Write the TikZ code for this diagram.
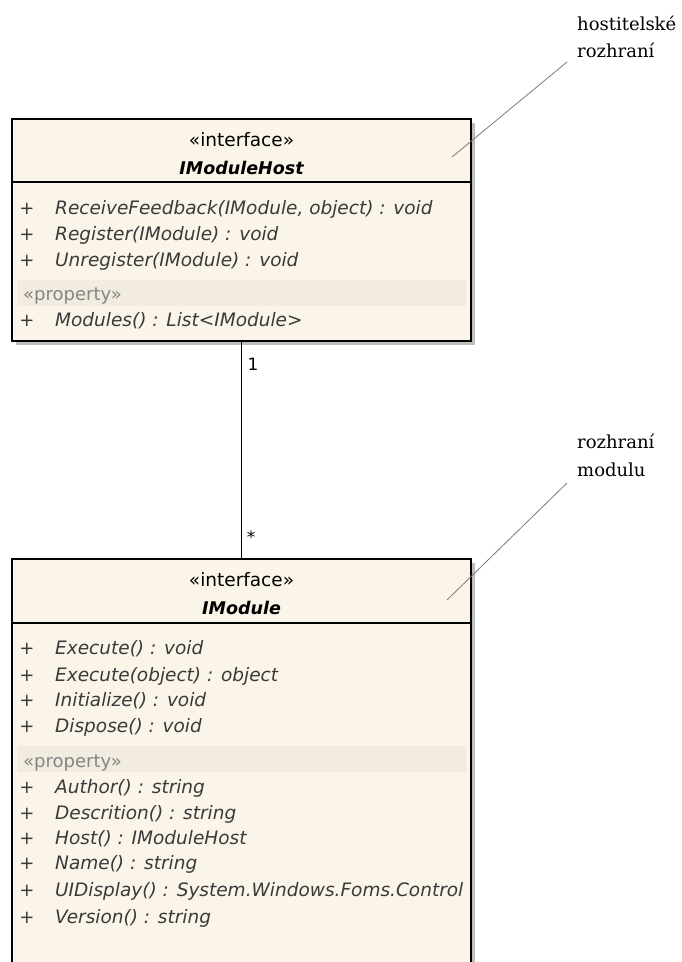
\documentclass[tikz,border=0pt]{standalone}
\usepackage{fontspec}
\usetikzlibrary{shadows}
\newfontfamily\umlfont{DejaVu Sans}
\newfontfamily\notefont{DejaVu Serif}
\definecolor{boxfill}{HTML}{FBF4E9}
\definecolor{bandfill}{HTML}{F2EBE0}
\definecolor{memtext}{HTML}{3A3A3A}
\definecolor{proptext}{HTML}{858585}
\definecolor{shadowgray}{HTML}{BDBDBD}
\definecolor{notegray}{HTML}{7A7A7A}
\tikzset{
  classbox/.style={draw=black, line width=1.5pt, fill=boxfill, inner sep=0pt,
    drop shadow={shadow xshift=4pt, shadow yshift=-4pt, fill=shadowgray, opacity=1}},
  stereo/.style={anchor=base, inner sep=0pt, font=\umlfont\fontsize{18.5}{20}\selectfont},
  ctitle/.style={anchor=base, inner sep=0pt, font=\umlfont\bfseries\itshape\fontsize{17.5}{20}\selectfont},
  member/.style={anchor=base west, inner sep=0pt, text=memtext, font=\umlfont\itshape\fontsize{18.5}{20}\selectfont},
  plus/.style={anchor=base, inner sep=0pt, text=memtext, font=\umlfont\fontsize{18}{20}\selectfont},
  proplabel/.style={anchor=base west, inner sep=0pt, text=proptext, font=\umlfont\fontsize{18}{20}\selectfont},
  band/.style={fill=bandfill, draw=none},
  divider/.style={line width=1.5pt},
  notetext/.style={anchor=base west, inner sep=0pt, font=\notefont\fontsize{18}{20}\selectfont},
  noteline/.style={draw=notegray, line width=0.8pt},
  mult/.style={inner sep=0pt, font=\umlfont\fontsize{17}{18}\selectfont},
}
\begin{document}
\begin{tikzpicture}[x=1pt,y=-1pt]
\useasboundingbox (0,0) rectangle (682,962);
\clip (0,0) rectangle (682,962);

% ---------- IModuleHost ----------
\node[classbox, minimum width=459pt, minimum height=222pt] (host) at (241.5,230) {};
\draw[divider] (12,182) -- (471,182);
\fill[band] (17,280) rectangle (466,306);
\node[stereo] (h1) at (241.5,146) {«interface»};
\node[ctitle] (h2) at (241.5,174) {IModuleHost};
\node[plus] (hp1) at (27,214) {+};
\node[member] (hm1) at (55,214) {ReceiveFeedback(IModule, object) : void};
\node[plus] (hp2) at (27,240) {+};
\node[member] (hm2) at (55,240) {Register(IModule) : void};
\node[plus] (hp3) at (27,266) {+};
\node[member] (hm3) at (55,266) {Unregister(IModule) : void};
\node[proplabel] (hpr) at (23,300) {«property»};
\node[plus] (hp4) at (27,326) {+};
\node[member] (hm4) at (55,326) {Modules() : List<IModule>};

% ---------- IModule ----------
\node[classbox, minimum width=459pt, minimum height=420pt] (mod) at (241.5,769) {};
\draw[divider] (12,623) -- (471,623);
\fill[band] (17,746) rectangle (466,772);
\node[stereo] (m1) at (241.5,586) {«interface»};
\node[ctitle] (m2) at (241.5,614) {IModule};
\node[plus] (mp1) at (27,654) {+};
\node[member] (mm1) at (55,654) {Execute() : void};
\node[plus] (mp2) at (27,681) {+};
\node[member] (mm2) at (55,681) {Execute(object) : object};
\node[plus] (mp3) at (27,706) {+};
\node[member] (mm3) at (55,706) {Initialize() : void};
\node[plus] (mp4) at (27,732) {+};
\node[member] (mm4) at (55,732) {Dispose() : void};
\node[proplabel] (mpr) at (23,767) {«property»};
\node[plus] (mp5) at (27,793) {+};
\node[member] (mm5) at (55,793) {Author() : string};
\node[plus] (mp6) at (27,819) {+};
\node[member] (mm6) at (55,819) {Descrition() : string};
\node[plus] (mp7) at (27,844) {+};
\node[member] (mm7) at (55,844) {Host() : IModuleHost};
\node[plus] (mp8) at (27,869) {+};
\node[member] (mm8) at (55,869) {Name() : string};
\node[plus] (mp9) at (27,896) {+};
\node[member] (mm9) at (55,896) {UIDisplay() : System.Windows.Foms.Control};
\node[plus] (mp10) at (27,923) {+};
\node[member] (mm10) at (55,923) {Version() : string};

% ---------- association ----------
\draw[line width=1.5pt] (host.south) -- (mod.north);
\node[mult] (one) at (253,364) {1};
\node[mult] (many) at (251,537) {*};

% ---------- notes ----------
\node[notetext] (n1a) at (577,30) {hostitelské};
\node[notetext] (n1b) at (577,57) {rozhraní};
\coordinate (n1end) at (567,62);
\coordinate (n1tip) at (452,157);
\draw[noteline] (n1end) -- (n1tip);

\node[notetext] (n2a) at (577,448) {rozhraní};
\node[notetext] (n2b) at (577,476) {modulu};
\coordinate (n2end) at (567,483);
\coordinate (n2tip) at (447,600);
\draw[noteline] (n2end) -- (n2tip);
\end{tikzpicture}
\end{document}
